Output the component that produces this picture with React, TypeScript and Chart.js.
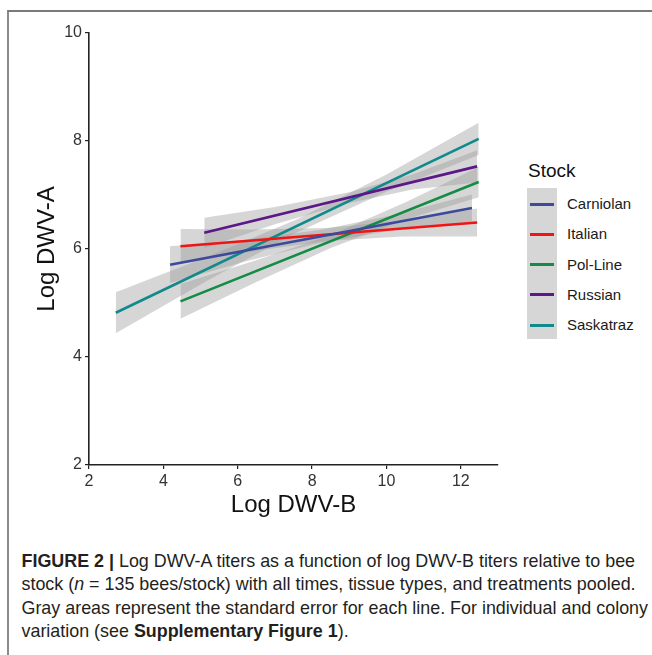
import React, { useEffect, useRef } from "react";
import { Chart, registerables } from "chart.js";

Chart.register(...registerables);

const stockNames = ["Carniolan", "Italian", "Pol-Line", "Russian", "Saskatraz"];
const stockColors = ["#3b4a9c", "#f01414", "#158c45", "#5c1788", "#12898b"];

// fitted regression line end points (Log DWV-B, Log DWV-A)
const carniolanLineX = [4.18, 12.3];
const carniolanLineY = [5.71, 6.76];
const italianLineX = [4.46, 12.44];
const italianLineY = [6.05, 6.49];
const polLineLineX = [4.46, 12.48];
const polLineLineY = [5.03, 7.24];
const russianLineX = [5.1, 12.44];
const russianLineY = [6.3, 7.53];
const saskatrazLineX = [2.72, 12.48];
const saskatrazLineY = [4.82, 8.04];

// standard error ribbons
const carniolanSeX = [4.18, 6.2, 8.2, 10.2, 12.3];
const carniolanSeUpper = [6.05, 6.17, 6.35, 6.63, 7.01];
const carniolanSeLower = [5.37, 5.77, 6.11, 6.35, 6.51];
const italianSeX = [4.46, 6.4, 8.4, 10.4, 12.44];
const italianSeUpper = [6.37, 6.36, 6.39, 6.53, 6.75];
const italianSeLower = [5.73, 5.96, 6.15, 6.23, 6.23];
const polLineSeX = [4.46, 6.5, 8.5, 10.5, 12.48];
const polLineSeUpper = [5.35, 5.79, 6.26, 6.86, 7.52];
const polLineSeLower = [4.71, 5.39, 6.02, 6.54, 6.96];
const russianSeX = [5.1, 7.0, 9.0, 10.7, 12.44];
const russianSeUpper = [6.58, 6.78, 7.05, 7.38, 7.83];
const russianSeLower = [6.02, 6.46, 6.85, 7.1, 7.23];
const saskatrazSeX = [2.72, 5.2, 7.6, 10.0, 12.48];
const saskatrazSeUpper = [5.2, 5.86, 6.55, 7.38, 8.34];
const saskatrazSeLower = [4.44, 5.42, 6.31, 7.06, 7.74];

const xTicks = [2, 4, 6, 8, 10, 12];
const yTicks = [2, 4, 6, 8, 10];

const lineXs = [carniolanLineX, italianLineX, polLineLineX, russianLineX, saskatrazLineX];
const lineYs = [carniolanLineY, italianLineY, polLineLineY, russianLineY, saskatrazLineY];
const seXs = [carniolanSeX, italianSeX, polLineSeX, russianSeX, saskatrazSeX];
const seUppers = [carniolanSeUpper, italianSeUpper, polLineSeUpper, russianSeUpper, saskatrazSeUpper];
const seLowers = [carniolanSeLower, italianSeLower, polLineSeLower, russianSeLower, saskatrazSeLower];

const FONT = "'Liberation Sans', Arial, Helvetica, sans-serif";
const BAND = "rgba(153,153,153,0.4)";

function pts(xs: number[], ys: number[]) {
  return xs.map((x, i) => ({ x, y: ys[i] }));
}

export default function App() {
  const ref = useRef<HTMLCanvasElement | null>(null);

  useEffect(() => {
    if (!ref.current) return;
    const datasets: any[] = [];
    stockNames.forEach((name, i) => {
      datasets.push({
        label: name + " SE upper",
        data: pts(seXs[i], seUppers[i]),
        showLine: true,
        borderWidth: 0,
        borderColor: "rgba(0,0,0,0)",
        backgroundColor: BAND,
        pointRadius: 0,
        fill: "+1",
        order: 2,
        tension: 0,
      });
      datasets.push({
        label: name + " SE lower",
        data: pts(seXs[i], seLowers[i]),
        showLine: true,
        borderWidth: 0,
        borderColor: "rgba(0,0,0,0)",
        backgroundColor: BAND,
        pointRadius: 0,
        fill: false,
        order: 2,
        tension: 0,
      });
    });
    stockNames.forEach((name, i) => {
      datasets.push({
        label: name,
        data: pts(lineXs[i], lineYs[i]),
        showLine: true,
        borderWidth: 2.6,
        borderColor: stockColors[i],
        backgroundColor: stockColors[i],
        pointRadius: 0,
        fill: false,
        order: 1,
      });
    });

    const chart = new Chart(ref.current, {
      type: "scatter",
      data: { datasets },
      options: {
        animation: false,
        responsive: false,
        maintainAspectRatio: false,
        layout: { padding: { top: 33, right: 22, bottom: 0, left: 0 } },
        plugins: {
          legend: { display: false },
          tooltip: { enabled: false },
        },
        scales: {
          x: {
            type: "linear",
            min: 2,
            max: 13,
            afterBuildTicks: (s: any) => {
              s.ticks = xTicks.map((v) => ({ value: v }));
            },
            afterFit: (s: any) => {
              s.height = 60;
            },
            grid: { display: true, drawOnChartArea: false, drawTicks: true, tickLength: 4, color: "#222", lineWidth: 1.2 },
            border: { display: true, color: "#222", width: 1.6 },
            ticks: { color: "#333", font: { family: FONT, size: 16 }, padding: 3, maxRotation: 0 },
            title: {
              display: true,
              text: "Log DWV-B",
              color: "#111",
              font: { family: FONT, size: 24 },
              padding: { top: 0, bottom: 5 },
            },
          },
          y: {
            type: "linear",
            min: 2,
            max: 10,
            afterBuildTicks: (s: any) => {
              s.ticks = yTicks.map((v) => ({ value: v }));
            },
            afterFit: (s: any) => {
              s.width = 89;
            },
            grid: { display: true, drawOnChartArea: false, drawTicks: true, tickLength: 4, color: "#222", lineWidth: 1.2 },
            border: { display: true, color: "#222", width: 1.6 },
            ticks: { color: "#333", font: { family: FONT, size: 16 }, padding: 3 },
            title: {
              display: true,
              text: "Log DWV-A",
              color: "#111",
              font: { family: FONT, size: 24 },
              padding: { top: 33, bottom: 0 },
            },
          },
        },
      },
    });
    return () => chart.destroy();
  }, []);

  const captionStyle: React.CSSProperties = {
    position: "absolute",
    left: 21.5,
    whiteSpace: "nowrap",
    fontFamily: FONT,
    fontSize: 17.9,
    color: "#231f20",
    lineHeight: "23.3px",
  };

  return (
    <div style={{ position: "fixed", left: 0, top: 0, width: 652, height: 655, background: "#fff", overflow: "hidden" }}>
      <div style={{ position: "absolute", left: 7, top: 10, width: 700, height: 700, borderTop: "2px solid #7a7a7a", borderLeft: "2px solid #8a8a8a" }} />
      <canvas ref={ref} width={520} height={525} style={{ position: "absolute", left: 0, top: 0, width: 520, height: 525 }} />
      <div style={{ position: "absolute", left: 528, top: 160, fontFamily: FONT, fontSize: 19, color: "#111" }}>Stock</div>
      <div style={{ position: "absolute", left: 527, top: 188, width: 30, height: 151, background: "#d6d6d6" }} />
      {stockNames.map((name, i) => (
        <React.Fragment key={name}>
          <div style={{ position: "absolute", left: 530, top: 202.5 + i * 30.3, width: 24, height: 3, background: stockColors[i] }} />
          <div style={{ position: "absolute", left: 567, top: 195 + i * 30.3, fontFamily: FONT, fontSize: 15, color: "#1a1a1a", whiteSpace: "nowrap" }}>{name}</div>
        </React.Fragment>
      ))}
      <div style={{ ...captionStyle, top: 550 }}>
        <b>FIGURE 2 |</b> Log DWV-A titers as a function of log DWV-B titers relative to bee
      </div>
      <div style={{ ...captionStyle, top: 573.3 }}>
        stock (<i>n</i> = 135 bees/stock) with all times, tissue types, and treatments pooled.
      </div>
      <div style={{ ...captionStyle, top: 596.6 }}>
        Gray areas represent the standard error for each line. For individual and colony
      </div>
      <div style={{ ...captionStyle, top: 619.9 }}>
        variation (see <b>Supplementary Figure 1</b>).
      </div>
    </div>
  );
}
